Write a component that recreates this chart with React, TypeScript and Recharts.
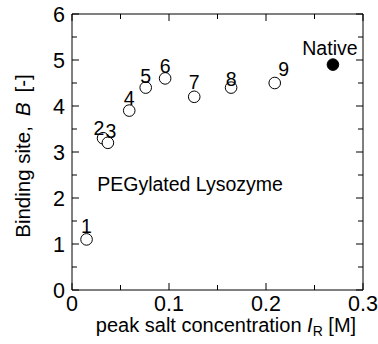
import { ScatterChart, Scatter, XAxis, YAxis } from 'recharts';

// peak salt concentration I_R [M] and binding site B [-]
const pegConc = [0.015, 0.032, 0.037, 0.059, 0.076, 0.096, 0.126, 0.164, 0.209];
const pegSites = [1.1, 3.3, 3.2, 3.9, 4.4, 4.6, 4.2, 4.4, 4.5];
const pegLabels = ['1', '2', '3', '4', '5', '6', '7', '8', '9'];

const nativeConc = [0.269];
const nativeSites = [4.9];
const nativeLabels = ['Native'];

const xTicks = [0, 0.05, 0.1, 0.15, 0.2, 0.25, 0.3];
const yTicks = [0, 0.5, 1, 1.5, 2, 2.5, 3, 3.5, 4, 4.5, 5, 5.5, 6];
const noteText = ['PEGylated Lysozyme'];
const noteAt = [{ x: 0.026, y: 2.3 }];

const isMajorX = (v: number) => Math.abs(v * 10 - Math.round(v * 10)) < 1e-6;
const isMajorY = (v: number) => Math.abs(v - Math.round(v)) < 1e-6;

const xMin = xTicks[0];
const xMax = xTicks[xTicks.length - 1];
const yMin = yTicks[0];
const yMax = yTicks[yTicks.length - 1];

const pegData = pegConc.map((x, i) => ({ x, y: pegSites[i], label: pegLabels[i] }));
const nativeData = nativeConc.map((x, i) => ({ x, y: nativeSites[i], label: nativeLabels[i] }));
const noteData = noteAt.map((p, i) => ({ ...p, label: noteText[i] }));
// inward tick marks on the top and right edges
const farTicks = [
  ...xTicks.map((v) => ({ x: v, y: yMax, side: 'top', major: isMajorX(v) })),
  ...yTicks.map((v) => ({ x: xMax, y: v, side: 'right', major: isMajorY(v) })),
];

const FONT = '"Liberation Sans", Arial, sans-serif';
const INK = '#000';
const TICK_OFF = 8; // default tickSize 6 + tickMargin 2

// label offsets from the marker centre
const labelOffset: Record<string, [number, number]> = {
  '1': [0, -13], '2': [-4, -10], '3': [3, -12], '4': [0, -13], '5': [0, -12],
  '6': [0, -12], '7': [0, -15], '8': [0, -9], '9': [9, -14], Native: [-3, -17],
};

export default function App() {
  return (
    <div style={{ position: 'absolute', left: 0, top: 0, width: 378, height: 344, background: '#fff' }}>
      <ScatterChart width={378} height={344} margin={{ top: 13, right: 14, bottom: 0, left: 0 }}>
        <XAxis xAxisId="bottom" dataKey="x" type="number" domain={[xMin, xMax]} ticks={xTicks} interval={0}
          height={54} tickLine={false} axisLine={{ stroke: INK }} tick={<BottomTick />} />
        <XAxis xAxisId="top" orientation="top" type="number" domain={[xMin, xMax]} ticks={xTicks} interval={0}
          height={1} tickLine={false} axisLine={{ stroke: INK }} tick={false} />
        <YAxis yAxisId="left" dataKey="y" type="number" domain={[yMin, yMax]} ticks={yTicks} interval={0}
          width={72} tickLine={false} axisLine={{ stroke: INK }} tick={<LeftTick />} />
        <YAxis yAxisId="right" orientation="right" type="number" domain={[yMin, yMax]} ticks={yTicks} interval={0}
          width={1} tickLine={false} axisLine={{ stroke: INK }} tick={false} />
        <Scatter xAxisId="bottom" yAxisId="left" data={farTicks} isAnimationActive={false}
          shape={(p: any) => <TickMark {...p} />} />
        <Scatter xAxisId="bottom" yAxisId="left" data={pegData} isAnimationActive={false}
          shape={(p: any) => <Marker {...p} filled={false} />} />
        <Scatter xAxisId="bottom" yAxisId="left" data={nativeData} isAnimationActive={false}
          shape={(p: any) => <Marker {...p} filled />} />
        <Scatter xAxisId="bottom" yAxisId="left" data={noteData} isAnimationActive={false}
          shape={(p: any) => (
            <text x={p.cx} y={p.cy + 7} fontFamily={FONT} fontSize={19.5} fill={INK}>{p.payload.label}</text>
          )} />
      </ScatterChart>
      <svg width={378} height={344} style={{ position: 'absolute', left: 0, top: 0, pointerEvents: 'none' }}>
        <text x={226} y={332} textAnchor="middle" fontFamily={FONT} fontSize={20} fill={INK}>
          peak salt concentration <tspan fontStyle="italic">I</tspan>
          <tspan fontSize={14} dy={4}>R</tspan>
          <tspan dy={-4}> [M]</tspan>
        </text>
        <text x={29.5} y={156} transform="rotate(-90, 29.5, 156)" textAnchor="middle"
          fontFamily={FONT} fontSize={20.5} fill={INK}>
          Binding site,<tspan dx={10} fontStyle="italic">B</tspan><tspan dx={10}>[-]</tspan>
        </text>
      </svg>
    </div>
  );
}

function TickMark({ cx, cy, payload }: any) {
  const len = payload.major ? 7 : 5;
  const d = payload.side === 'top' ? `M${cx},${cy}V${cy + len}` : `M${cx},${cy}H${cx - len}`;
  return <path d={d} stroke={INK} strokeWidth={1} fill="none" />;
}

function Marker({ cx, cy, payload, filled }: any) {
  const [dx, dy] = labelOffset[payload.label] ?? [0, -12];
  return (
    <g>
      <circle cx={cx} cy={cy} r={5.8} fill={filled ? '#000' : '#fff'} stroke={INK} strokeWidth={1} />
      <text x={cx + dx} y={cy + dy + 7} textAnchor="middle" fontFamily={FONT} fontSize={19.5} fill={INK}>
        {payload.label}
      </text>
    </g>
  );
}

function BottomTick({ x, y, payload }: any) {
  const v = payload.value;
  const major = isMajorX(v);
  const ay = y - TICK_OFF;
  return (
    <g>
      <line x1={x} x2={x} y1={ay} y2={ay - (major ? 7 : 5)} stroke={INK} strokeWidth={1} />
      {major && (
        <text x={x} y={ay + 21} textAnchor="middle" fontFamily={FONT} fontSize={21.5} fill={INK}>
          {v === 0 ? '0' : v.toFixed(1)}
        </text>
      )}
    </g>
  );
}

function LeftTick({ x, y, payload }: any) {
  const v = payload.value;
  const major = isMajorY(v);
  const ax = x + TICK_OFF;
  return (
    <g>
      <line x1={ax} x2={ax + (major ? 7 : 5)} y1={y} y2={y} stroke={INK} strokeWidth={1} />
      {major && (
        <text x={ax - 7} y={y + 7.5} textAnchor="end" fontFamily={FONT} fontSize={21.5} fill={INK}>
          {v}
        </text>
      )}
    </g>
  );
}
